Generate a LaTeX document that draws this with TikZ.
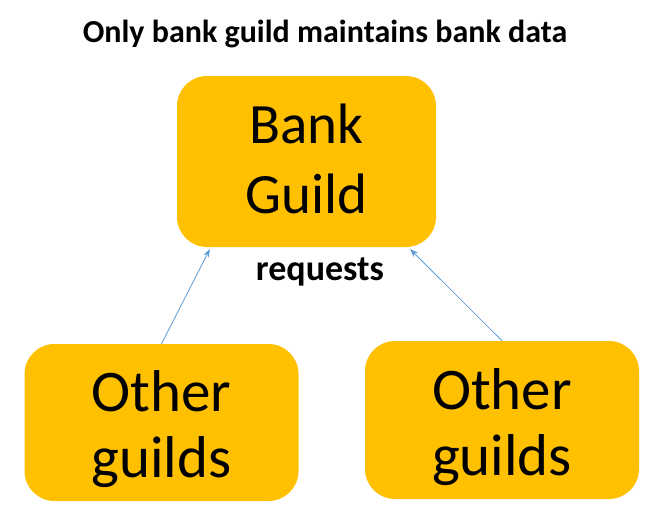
\documentclass[tikz,border=0pt]{standalone}
\usepackage{fontspec}
\setmainfont{Carlito}
\usetikzlibrary{calc,arrows.meta}
\definecolor{gold}{HTML}{FFC000}
\definecolor{linkblue}{HTML}{5B9BD5}
\tikzset{
  guildbox/.style={fill=gold, rounded corners=30pt, inner sep=0pt},
  boxlabel/.style={align=center, inner sep=0pt},
  reqarrow/.style={draw=linkblue, line width=0.8pt, -{Stealth[length=8pt,width=6pt]}},
}
\begin{document}
\begin{tikzpicture}[x=1pt,y=1pt]
\useasboundingbox (0,0) rectangle (645,-512);
\node[anchor=base, font=\bfseries\fontsize{32}{36}\selectfont] (title) at (325,-42) {Only bank guild maintains bank data};
\node[guildbox, minimum width=259pt, minimum height=171pt,
  label={[boxlabel, font=\fontsize{57}{70}\selectfont, yshift=3pt]center:Bank\\Guild}] (bank) at (306.5,-161.5) {};
\node[guildbox, minimum width=274pt, minimum height=157pt,
  label={[boxlabel, font=\fontsize{59}{66}\selectfont, yshift=-7pt]center:Other\\guilds}] (left) at (161.5,-422.5) {};
\node[guildbox, minimum width=274pt, minimum height=158pt,
  label={[boxlabel, font=\fontsize{59}{66}\selectfont, yshift=-7pt]center:Other\\guilds}] (right) at (502,-420) {};
\node[anchor=base, font=\bfseries\fontsize{36}{40}\selectfont] (req) at (320,-280) {requests};
\draw[reqarrow] (left.north) -- ($(bank.south west)+(33,-2)$);
\draw[reqarrow] (right.north) -- ($(bank.south east)+(-26,-2)$);
\end{tikzpicture}
\end{document}
